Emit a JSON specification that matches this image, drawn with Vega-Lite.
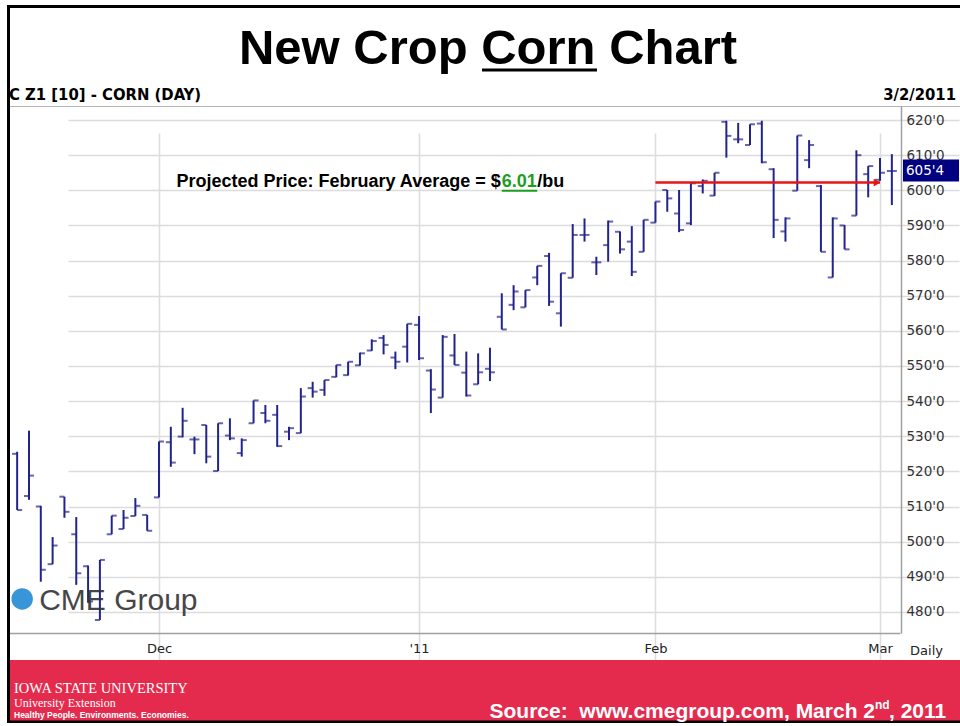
{
  "$schema": "https://vega.github.io/schema/vega-lite/v6.json",
  "background": "white",
  "padding": {"left": 6, "top": 5, "right": 0, "bottom": 3},
  "autosize": {"type": "pad"},
  "spacing": 0,
  "bounds": "flush",
  "config": {"view": {"stroke": null}, "concat": {"spacing": 0}},
  "datasets": {
    "ohlc": [
      {"d": "2010-11-12", "o": 525, "h": 525.6, "l": 509, "c": 509},
      {"d": "2010-11-15", "o": 513, "h": 531.6, "l": 511.9, "c": 518.8},
      {"d": "2010-11-16", "o": 510, "h": 510.2, "l": 488.6, "c": 492},
      {"d": "2010-11-17", "o": 493.6, "h": 501.3, "l": 493.6, "c": 498.9},
      {"d": "2010-11-18", "o": 512.8, "h": 512.8, "l": 506.8, "c": 508.5},
      {"d": "2010-11-19", "o": 502.1, "h": 507, "l": 487.7, "c": 491},
      {"d": "2010-11-22", "o": 493, "h": 493.2, "l": 482.6, "c": 483},
      {"d": "2010-11-23", "o": 477.7, "h": 494.8, "l": 477.7, "c": 494.8},
      {"d": "2010-11-24", "o": 502.1, "h": 507.4, "l": 502.1, "c": 507.4},
      {"d": "2010-11-26", "o": 503.6, "h": 509, "l": 503.6, "c": 506.8},
      {"d": "2010-11-29", "o": 507.3, "h": 512.4, "l": 507.3, "c": 510.2},
      {"d": "2010-11-30", "o": 507.6, "h": 507.6, "l": 503.1, "c": 503.1},
      {"d": "2010-12-01", "o": 512.6, "h": 528.5, "l": 512.6, "c": 528.5},
      {"d": "2010-12-02", "o": 528.3, "h": 532.7, "l": 521.3, "c": 522.5},
      {"d": "2010-12-03", "o": 529.9, "h": 538.1, "l": 529.7, "c": 534.4},
      {"d": "2010-12-06", "o": 529.1, "h": 529.9, "l": 524.9, "c": 529.1},
      {"d": "2010-12-07", "o": 533.2, "h": 533.2, "l": 522.3, "c": 524.2},
      {"d": "2010-12-08", "o": 520.1, "h": 533.7, "l": 520.1, "c": 533.7},
      {"d": "2010-12-09", "o": 530.2, "h": 535.1, "l": 528.9, "c": 529.4},
      {"d": "2010-12-10", "o": 525.2, "h": 529.4, "l": 524.2, "c": 528.9},
      {"d": "2010-12-13", "o": 533.7, "h": 540.2, "l": 533.7, "c": 540.2},
      {"d": "2010-12-14", "o": 536.6, "h": 538.9, "l": 533.7, "c": 534.4},
      {"d": "2010-12-15", "o": 536.1, "h": 538.9, "l": 527, "c": 527.2},
      {"d": "2010-12-16", "o": 531.3, "h": 532.7, "l": 528.9, "c": 532.3},
      {"d": "2010-12-17", "o": 530.9, "h": 543.7, "l": 530.9, "c": 541.3},
      {"d": "2010-12-20", "o": 543.7, "h": 545.5, "l": 541, "c": 542.7},
      {"d": "2010-12-21", "o": 543.2, "h": 546, "l": 541.5, "c": 546},
      {"d": "2010-12-22", "o": 546.9, "h": 550.3, "l": 546.8, "c": 550.3},
      {"d": "2010-12-23", "o": 547.4, "h": 551.2, "l": 547.3, "c": 551.2},
      {"d": "2010-12-27", "o": 550.2, "h": 553.8, "l": 550.1, "c": 553.6},
      {"d": "2010-12-28", "o": 554.4, "h": 557.6, "l": 554.3, "c": 557.1},
      {"d": "2010-12-29", "o": 558, "h": 558.8, "l": 553.3, "c": 556},
      {"d": "2010-12-30", "o": 552.4, "h": 554.1, "l": 549.1, "c": 551.2},
      {"d": "2010-12-31", "o": 555.5, "h": 562, "l": 551, "c": 562},
      {"d": "2011-01-03", "o": 561.7, "h": 564.2, "l": 551.7, "c": 552.2},
      {"d": "2011-01-04", "o": 548.7, "h": 549.1, "l": 536.6, "c": 543.3},
      {"d": "2011-01-05", "o": 541, "h": 558.8, "l": 541, "c": 558.3},
      {"d": "2011-01-06", "o": 553, "h": 559.1, "l": 550.3, "c": 550.3},
      {"d": "2011-01-07", "o": 548.1, "h": 554.1, "l": 541.3, "c": 541.6},
      {"d": "2011-01-10", "o": 544.8, "h": 553.6, "l": 544.8, "c": 548.2},
      {"d": "2011-01-11", "o": 549.2, "h": 555.2, "l": 545.7, "c": 548.2},
      {"d": "2011-01-12", "o": 564, "h": 570.7, "l": 560.4, "c": 560.4},
      {"d": "2011-01-13", "o": 567.4, "h": 573, "l": 565.9, "c": 571.2},
      {"d": "2011-01-14", "o": 566.7, "h": 571.6, "l": 566.7, "c": 571.6},
      {"d": "2011-01-18", "o": 575.2, "h": 578.5, "l": 573, "c": 578.5},
      {"d": "2011-01-19", "o": 581.3, "h": 582.2, "l": 567.1, "c": 568.3},
      {"d": "2011-01-20", "o": 565, "h": 576.4, "l": 561.2, "c": 576.4},
      {"d": "2011-01-21", "o": 575.1, "h": 590.4, "l": 575.1, "c": 587.3},
      {"d": "2011-01-24", "o": 587.3, "h": 592, "l": 585.4, "c": 587.3},
      {"d": "2011-01-25", "o": 579.5, "h": 581.1, "l": 575.9, "c": 579.5},
      {"d": "2011-01-26", "o": 584.4, "h": 591.4, "l": 579.7, "c": 591.1},
      {"d": "2011-01-27", "o": 588.2, "h": 588.3, "l": 582, "c": 583.2},
      {"d": "2011-01-28", "o": 585.4, "h": 589.8, "l": 575.6, "c": 576.8},
      {"d": "2011-01-31", "o": 582.5, "h": 591.6, "l": 582.5, "c": 591.6},
      {"d": "2011-02-01", "o": 590.8, "h": 596.8, "l": 590.8, "c": 596.8},
      {"d": "2011-02-02", "o": 600.1, "h": 600.1, "l": 593.9, "c": 597.7},
      {"d": "2011-02-03", "o": 593.4, "h": 600.1, "l": 588.1, "c": 588.7},
      {"d": "2011-02-04", "o": 590.6, "h": 602, "l": 590.1, "c": 602},
      {"d": "2011-02-07", "o": 601.2, "h": 603.1, "l": 599.1, "c": 602.7},
      {"d": "2011-02-08", "o": 598.5, "h": 605, "l": 598.4, "c": 605},
      {"d": "2011-02-09", "o": 619.5, "h": 619.8, "l": 609.3, "c": 615.5},
      {"d": "2011-02-10", "o": 614.5, "h": 619.2, "l": 613.4, "c": 614.5},
      {"d": "2011-02-11", "o": 612.9, "h": 618.8, "l": 612.9, "c": 618.8},
      {"d": "2011-02-14", "o": 619, "h": 619.8, "l": 607.7, "c": 608},
      {"d": "2011-02-15", "o": 606, "h": 606.3, "l": 586.4, "c": 591.6},
      {"d": "2011-02-16", "o": 588.3, "h": 592.3, "l": 585.4, "c": 592},
      {"d": "2011-02-17", "o": 599.9, "h": 615.6, "l": 599.9, "c": 615.6},
      {"d": "2011-02-18", "o": 608.6, "h": 614.3, "l": 606.3, "c": 612.9},
      {"d": "2011-02-22", "o": 601.2, "h": 601.5, "l": 582.5, "c": 582.5},
      {"d": "2011-02-23", "o": 575.2, "h": 592.3, "l": 575.2, "c": 592},
      {"d": "2011-02-24", "o": 590, "h": 590.1, "l": 583.2, "c": 583.2},
      {"d": "2011-02-25", "o": 592.8, "h": 611.4, "l": 592.8, "c": 610},
      {"d": "2011-02-28", "o": 604.6, "h": 606.9, "l": 598, "c": 606.9},
      {"d": "2011-03-01", "o": 603, "h": 609.2, "l": 602.7, "c": 605},
      {"d": "2011-03-02", "o": 605.5, "h": 610.3, "l": 595.8, "c": 605.5}
    ]
  },
  "vconcat": [
    {
      "width": 954,
      "height": 101,
      "view": {"fill": "white", "stroke": null},
      "data": {"values": [{}]},
      "layer": [
        {"mark": {"type": "rect", "color": "black"},
         "encoding": {"x": {"value": 0}, "x2": {"value": 954}, "y": {"value": 0}, "y2": {"value": 3}}},
        {"mark": {"type": "rect", "color": "black"},
         "encoding": {"x": {"value": 0}, "x2": {"value": 3}, "y": {"value": 0}, "y2": {"value": 101}}},
        {"mark": {"type": "text", "text": "New Crop Corn Chart", "font": "Liberation Sans", "fontWeight": "bold", "fontSize": 49, "align": "center", "baseline": "alphabetic", "color": "black"},
         "encoding": {"x": {"value": 481}, "y": {"value": 59}}},
        {"mark": {"type": "rect", "color": "black"},
         "encoding": {"x": {"value": 475}, "x2": {"value": 590}, "y": {"value": 63.5}, "y2": {"value": 66.5}}},
        {"mark": {"type": "text", "text": "C Z1 [10] - CORN (DAY)", "font": "Liberation Sans Narrow, DejaVu Sans Condensed, sans-serif", "fontWeight": "bold", "fontSize": 16.5, "align": "left", "baseline": "alphabetic", "color": "black"},
         "encoding": {"x": {"value": 2}, "y": {"value": 95}}},
        {"mark": {"type": "text", "text": "3/2/2011", "font": "Liberation Sans Narrow, DejaVu Sans Condensed, sans-serif", "fontWeight": "bold", "fontSize": 16.5, "align": "right", "baseline": "alphabetic", "color": "black"},
         "encoding": {"x": {"value": 949}, "y": {"value": 95}}}
      ]
    },
    {
      "width": 954,
      "height": 554,
      "view": {"fill": "white", "stroke": "#B4B4B4"},
      "resolve": {"scale": {"x": "shared", "y": "shared"}, "axis": {"x": "independent", "y": "independent"}},
      "layer": [
        {
          "data": {"name": "ohlc"},
          "mark": {"type": "rule", "color": "#23238E", "strokeWidth": 2},
          "encoding": {
            "x": {"field": "d", "type": "ordinal",
                  "scale": {"type": "point", "range": [2, 893], "padding": 0.69},
                  "axis": {"orient": "bottom", "offset": -27,
                           "values": ["2010-12-01", "2011-01-03", "2011-02-01", "2011-03-01"],
                           "labelExpr": "datum.value == '2010-12-01' ? 'Dec' : datum.value == '2011-01-03' ? \"'11\" : datum.value == '2011-02-01' ? 'Feb' : 'Mar'",
                           "ticks": false, "domainColor": "#A0A0A0", "domainWidth": 1.5,
                           "grid": true, "gridColor": "#DCDCDC", "gridWidth": 1.5,
                           "labelFont": "DejaVu Sans", "labelFontSize": 13, "labelColor": "#222", "labelPadding": 9, "labelAngle": 0,
                           "title": "Daily", "titleX": 919, "titleY": 17, "titleAlign": "center", "titleBaseline": "middle",
                           "titleFont": "DejaVu Sans", "titleFontSize": 13, "titleFontWeight": "normal", "titleColor": "#222", "titleAngle": 0}},
            "y": {"field": "l", "type": "quantitative",
                  "scale": {"domain": [474, 624], "range": [527, 0], "nice": false, "zero": false},
                  "axis": {"orient": "right", "offset": -60,
                           "values": [480, 490, 500, 510, 520, 530, 540, 550, 560, 570, 580, 590, 600, 610, 620],
                           "labelExpr": "datum.value + \"'0\"",
                           "ticks": false, "domainColor": "#A0A0A0", "domainWidth": 1.5,
                           "grid": true, "gridColor": "#DCDCDC", "gridWidth": 1.5,
                           "labelFont": "DejaVu Sans", "labelFontSize": 13.5, "labelColor": "#333", "labelPadding": 5,
                           "labelFlush": false, "labelOverlap": false, "title": null}},
            "y2": {"field": "h"}
          }
        },
        {
          "data": {"name": "ohlc"},
          "mark": {"type": "tick", "color": "#23238E", "size": 5, "thickness": 2, "xOffset": -2.5},
          "encoding": {"x": {"field": "d", "type": "ordinal", "axis": null}, "y": {"field": "o", "type": "quantitative", "axis": null}}
        },
        {
          "data": {"name": "ohlc"},
          "mark": {"type": "tick", "color": "#23238E", "size": 5, "thickness": 2, "xOffset": 2.5},
          "encoding": {"x": {"field": "d", "type": "ordinal", "axis": null}, "y": {"field": "c", "type": "quantitative", "axis": null}}
        },
        {
          "data": {"values": [{}]},
          "mark": {"type": "rule", "color": "#E81414", "strokeWidth": 2.5},
          "encoding": {"x": {"datum": "2011-02-01", "type": "ordinal", "axis": null}, "x2": {"datum": "2011-03-01"}, "y": {"datum": 602.2, "type": "quantitative", "axis": null}}
        },
        {
          "data": {"values": [{}]},
          "mark": {"type": "point", "shape": "triangle-right", "filled": true, "color": "#E81414", "size": 60, "opacity": 1, "xOffset": -3},
          "encoding": {"x": {"datum": "2011-03-01", "type": "ordinal", "axis": null}, "y": {"datum": 602.2, "type": "quantitative", "axis": null}}
        },
        {
          "data": {"values": [{}]},
          "mark": {"type": "text", "text": "Projected Price: February Average = $", "font": "Liberation Sans", "fontWeight": "bold", "fontSize": 18, "align": "right", "baseline": "alphabetic", "color": "black", "dx": -1},
          "encoding": {"x": {"datum": "2011-01-12", "type": "ordinal", "axis": null}, "y": {"datum": 600.9, "type": "quantitative", "axis": null}}
        },
        {
          "data": {"values": [{}]},
          "mark": {"type": "text", "text": "6.01", "font": "Liberation Sans", "fontWeight": "bold", "fontSize": 18, "align": "left", "baseline": "alphabetic", "color": "#1E9E1E"},
          "encoding": {"x": {"datum": "2011-01-12", "type": "ordinal", "axis": null}, "y": {"datum": 600.9, "type": "quantitative", "axis": null}}
        },
        {
          "data": {"values": [{}]},
          "mark": {"type": "text", "text": "/bu", "font": "Liberation Sans", "fontWeight": "bold", "fontSize": 18, "align": "left", "baseline": "alphabetic", "color": "black"},
          "encoding": {"x": {"datum": "2011-01-18", "type": "ordinal", "axis": null}, "y": {"datum": 600.9, "type": "quantitative", "axis": null}}
        },
        {
          "data": {"values": [{}]},
          "mark": {"type": "rule", "color": "#1E9E1E", "strokeWidth": 2},
          "encoding": {"x": {"datum": "2011-01-12", "type": "ordinal", "axis": null}, "x2": {"datum": "2011-01-18"}, "y": {"datum": 599.9, "type": "quantitative", "axis": null}}
        },
        {
          "data": {"values": [{}]},
          "mark": {"type": "point", "shape": "circle", "filled": true, "color": "#2D8FD5", "size": 460, "opacity": 0.95, "xOffset": 5},
          "encoding": {"x": {"datum": "2010-11-12", "type": "ordinal", "axis": null}, "y": {"datum": 483.7, "type": "quantitative", "axis": null}}
        },
        {
          "data": {"values": [{}]},
          "mark": {"type": "text", "text": "CME Group", "font": "Liberation Sans", "fontSize": 30, "align": "left", "baseline": "alphabetic", "color": "#333333", "opacity": 0.9, "dx": 22},
          "encoding": {"x": {"datum": "2010-11-12", "type": "ordinal", "axis": null}, "y": {"datum": 480.6, "type": "quantitative", "axis": null}}
        },
        {
          "data": {"values": [{}]},
          "mark": {"type": "rect", "color": "#000080"},
          "encoding": {"x": {"value": 896}, "x2": {"value": 952}, "y": {"datum": 608.8, "type": "quantitative", "axis": null}, "y2": {"datum": 602.5}}
        },
        {
          "data": {"values": [{}]},
          "mark": {"type": "text", "text": "605'4", "font": "DejaVu Sans", "fontSize": 13.5, "align": "left", "baseline": "middle", "color": "white"},
          "encoding": {"x": {"value": 899}, "y": {"datum": 605.6, "type": "quantitative", "axis": null}}
        },
        {
          "data": {"values": [{}]},
          "mark": {"type": "rect", "color": "black"},
          "encoding": {"x": {"value": 0}, "x2": {"value": 3}, "y": {"value": 0}, "y2": {"value": 554}}
        }
      ]
    },
    {
      "width": 954,
      "height": 63,
      "view": {"fill": "#E42B4E", "stroke": null},
      "data": {"values": [{}]},
      "layer": [
        {"mark": {"type": "rect", "color": "black"},
         "encoding": {"x": {"value": 0}, "x2": {"value": 3}, "y": {"value": 0}, "y2": {"value": 63}}},
        {"mark": {"type": "rect", "color": "black"},
         "encoding": {"x": {"value": 0}, "x2": {"value": 954}, "y": {"value": 60.5}, "y2": {"value": 63}}},
        {"mark": {"type": "text", "text": "IOWA STATE UNIVERSITY", "font": "Liberation Serif", "fontSize": 14.5, "align": "left", "baseline": "alphabetic", "color": "white"},
         "encoding": {"x": {"value": 7}, "y": {"value": 33}}},
        {"mark": {"type": "text", "text": "University Extension", "font": "Liberation Serif", "fontSize": 12, "align": "left", "baseline": "alphabetic", "color": "white"},
         "encoding": {"x": {"value": 7}, "y": {"value": 47}}},
        {"mark": {"type": "text", "text": "Healthy People. Environments. Economies.", "font": "Liberation Sans", "fontWeight": "bold", "fontSize": 8.5, "align": "left", "baseline": "alphabetic", "color": "white"},
         "encoding": {"x": {"value": 7}, "y": {"value": 58}}},
        {"mark": {"type": "text", "text": "Source:\u00a0 www.cmegroup.com, March 2", "font": "Liberation Sans", "fontWeight": "bold", "fontSize": 21, "align": "right", "baseline": "alphabetic", "color": "white"},
         "encoding": {"x": {"value": 868}, "y": {"value": 58}}},
        {"mark": {"type": "text", "text": "nd", "font": "Liberation Sans", "fontWeight": "bold", "fontSize": 12, "align": "left", "baseline": "alphabetic", "color": "white"},
         "encoding": {"x": {"value": 868}, "y": {"value": 49}}},
        {"mark": {"type": "text", "text": ", 2011", "font": "Liberation Sans", "fontWeight": "bold", "fontSize": 21, "align": "left", "baseline": "alphabetic", "color": "white"},
         "encoding": {"x": {"value": 882}, "y": {"value": 58}}}
      ]
    }
  ]
}
